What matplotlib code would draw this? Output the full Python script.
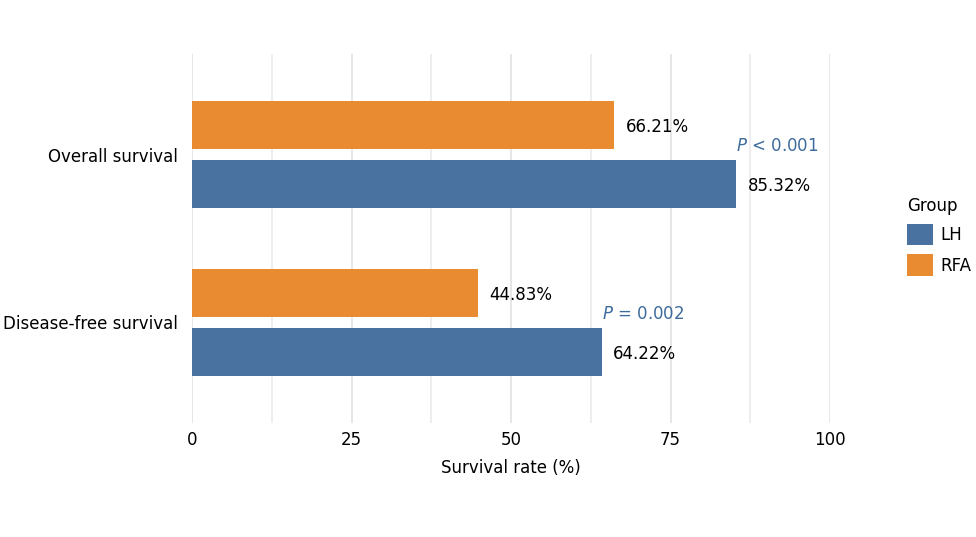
import matplotlib
matplotlib.use("Agg")
import matplotlib.pyplot as plt
from matplotlib.patches import Patch
from matplotlib.ticker import MultipleLocator

plt.rcParams['font.family'] = ['DejaVu Sans']

categories = ["Overall survival", "Disease-free survival"]
groups = ["LH", "RFA"]
lh_values = [85.32, 64.22]
rfa_values = [66.21, 44.83]
p_labels = ["< 0.001", "= 0.002"]
x_ticks = [0, 25, 50, 75, 100]

c_lh = "#4A72A0"
c_rfa = "#E88B31"
c_p = "#3D6B9C"

fig = plt.figure(figsize=(9.76, 5.37), dpi=100)
ax = fig.add_axes([192/976, 1-423/537, (830-192)/976, (423-54)/537])

pos = list(range(len(categories)))
off = 0.176
h = 0.286
ax.barh([p + off for p in pos], lh_values, height=h, color=c_lh, zorder=3)
ax.barh([p - off for p in pos], rfa_values, height=h, color=c_rfa, zorder=3)

fs = 12
for p, v in zip(pos, lh_values):
    ax.text(v + 1.8, p + off + 0.01, f"{v:.2f}%", va="center", ha="left", fontsize=fs, clip_on=False)
for p, v in zip(pos, rfa_values):
    ax.text(v + 1.8, p - off + 0.01, f"{v:.2f}%", va="center", ha="left", fontsize=fs, clip_on=False)
for p, v, lab in zip(pos, lh_values, p_labels):
    ax.text(v + 6.5, p - 0.05, f"$\\it{{P}}$ {lab}", va="center", ha="center", fontsize=fs, color=c_p, clip_on=False)

ax.set_xlim(0, 100)
ax.set_ylim(1.6, -0.6)
ax.set_yticks(pos)
ax.set_yticklabels(categories, fontsize=fs)
ax.set_xticks(x_ticks)
ax.set_xticklabels([str(t) for t in x_ticks], fontsize=fs)
ax.xaxis.set_minor_locator(MultipleLocator(12.5))
ax.grid(axis="x", which="major", color="#E6E6E6", linewidth=1.4, zorder=0)
ax.grid(axis="x", which="minor", color="#EBEBEB", linewidth=1.2, zorder=0)
ax.tick_params(axis="both", which="both", length=0)
ax.tick_params(axis="x", pad=6)
ax.tick_params(axis="y", pad=10)
for s in ax.spines.values():
    s.set_visible(False)
ax.set_xlabel("Survival rate (%)", fontsize=fs, labelpad=7)

handles = [Patch(facecolor=c_lh, edgecolor="none"), Patch(facecolor=c_rfa, edgecolor="none")]
leg = fig.legend(handles, groups, title="Group", loc="upper left", bbox_to_anchor=(900/976, 1-190/537),
                 frameon=False, fontsize=fs, title_fontsize=fs, handlelength=1.55, handleheight=1.6,
                 handletextpad=0.5, labelspacing=0.55, alignment="left", borderaxespad=0)

fig.savefig("out.png", dpi=100, facecolor="white")
